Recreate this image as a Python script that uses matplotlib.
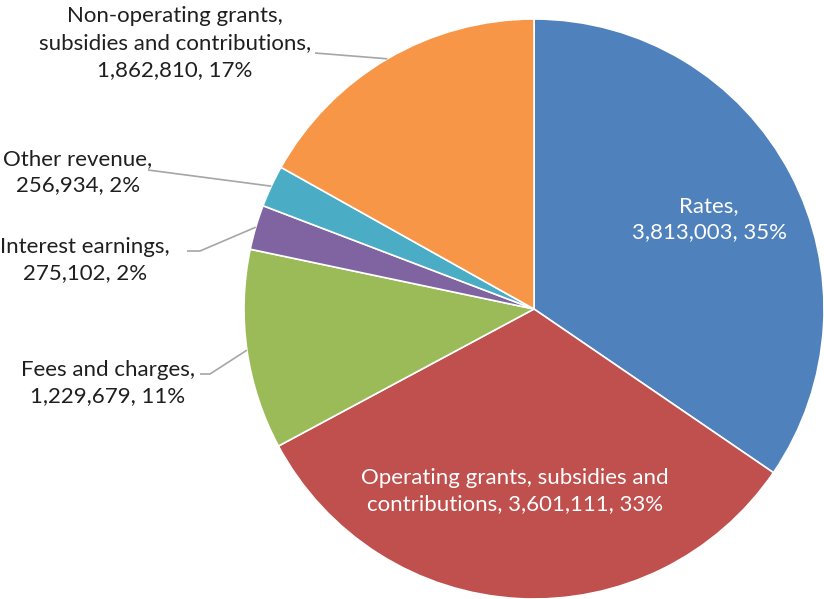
import numpy as np
import matplotlib
matplotlib.use("Agg")
import matplotlib.pyplot as plt

categories = ["Rates", "Operating grants, subsidies and\ncontributions",
              "Fees and charges", "Interest earnings", "Other revenue",
              "Non-operating grants,\nsubsidies and contributions"]
values = [3813003, 3601111, 1229679, 275102, 256934, 1862810]
colors = ["#4F81BD", "#C0504D", "#9BBB59", "#8064A2", "#4BACC6", "#F79646"]

plt.rcParams['font.family'] = ['Lato', 'DejaVu Sans']

W, H = 824, 599
R = 290.0
cx, cy = 534.0, 309.0

fig = plt.figure(figsize=(W / 100, H / 100), dpi=100)
ax = fig.add_axes([0, 0, 1, 1])

wedges, _ = ax.pie(values, colors=colors, startangle=90, counterclock=False,
                   radius=1.0, center=(0, 0),
                   wedgeprops=dict(edgecolor="white", linewidth=1.2))
ax.set_aspect("auto")
ax.set_xlim(-cx / R, (W - cx) / R)
ax.set_ylim(-(H - cy) / R, cy / R)
ax.axis("off")

total = sum(values)
pct = [round(v / total * 100) for v in values]


def px(x, y):
    return ((x - cx) / R, (cy - y) / R)


def mid_point(w, r=1.0):
    a = np.deg2rad((w.theta1 + w.theta2) / 2)
    return r * np.cos(a), r * np.sin(a)


fs = 16.0
ls = 1.42

# Labels inside the two large slices
ax.text(*px(709, 219), f"{categories[0]},\n{values[0]:,}, {pct[0]}%",
        ha="center", va="center", color="white", fontsize=fs, linespacing=ls)
ax.text(*px(515, 491),
        f"Operating grants, subsidies and\ncontributions, {values[1]:,}, {pct[1]}%",
        ha="center", va="center", color="white", fontsize=fs, linespacing=ls)

# Outside labels with leader lines: (index, text centre, leader path in px)
outside = [
    (5, (175, 43), [(315, 53)]),
    (4, (78, 172), [(148, 170)]),
    (3, (85, 260), [(200, 251), (187, 251)]),
    (2, (108, 383), [(210, 374), (200, 374)]),
]
label_text = {
    5: f"Non-operating grants,\nsubsidies and contributions,\n{values[5]:,}, {pct[5]}%",
    4: f"Other revenue,\n{values[4]:,}, {pct[4]}%",
    3: f"Interest earnings,\n{values[3]:,}, {pct[3]}%",
    2: f"Fees and charges,\n{values[2]:,}, {pct[2]}%",
}
for idx, centre, path in outside:
    ex, ey = mid_point(wedges[idx])
    pts = [(ex, ey)] + [px(*p) for p in path]
    xs, ys = zip(*pts)
    ax.plot(xs, ys, color="#A6A6A6", linewidth=1.2, solid_capstyle="butt")
    ax.text(*px(*centre), label_text[idx], ha="center", va="center",
            color="#1F1F1F", fontsize=fs, linespacing=ls)

fig.savefig("out.png", dpi=100, facecolor="white")
